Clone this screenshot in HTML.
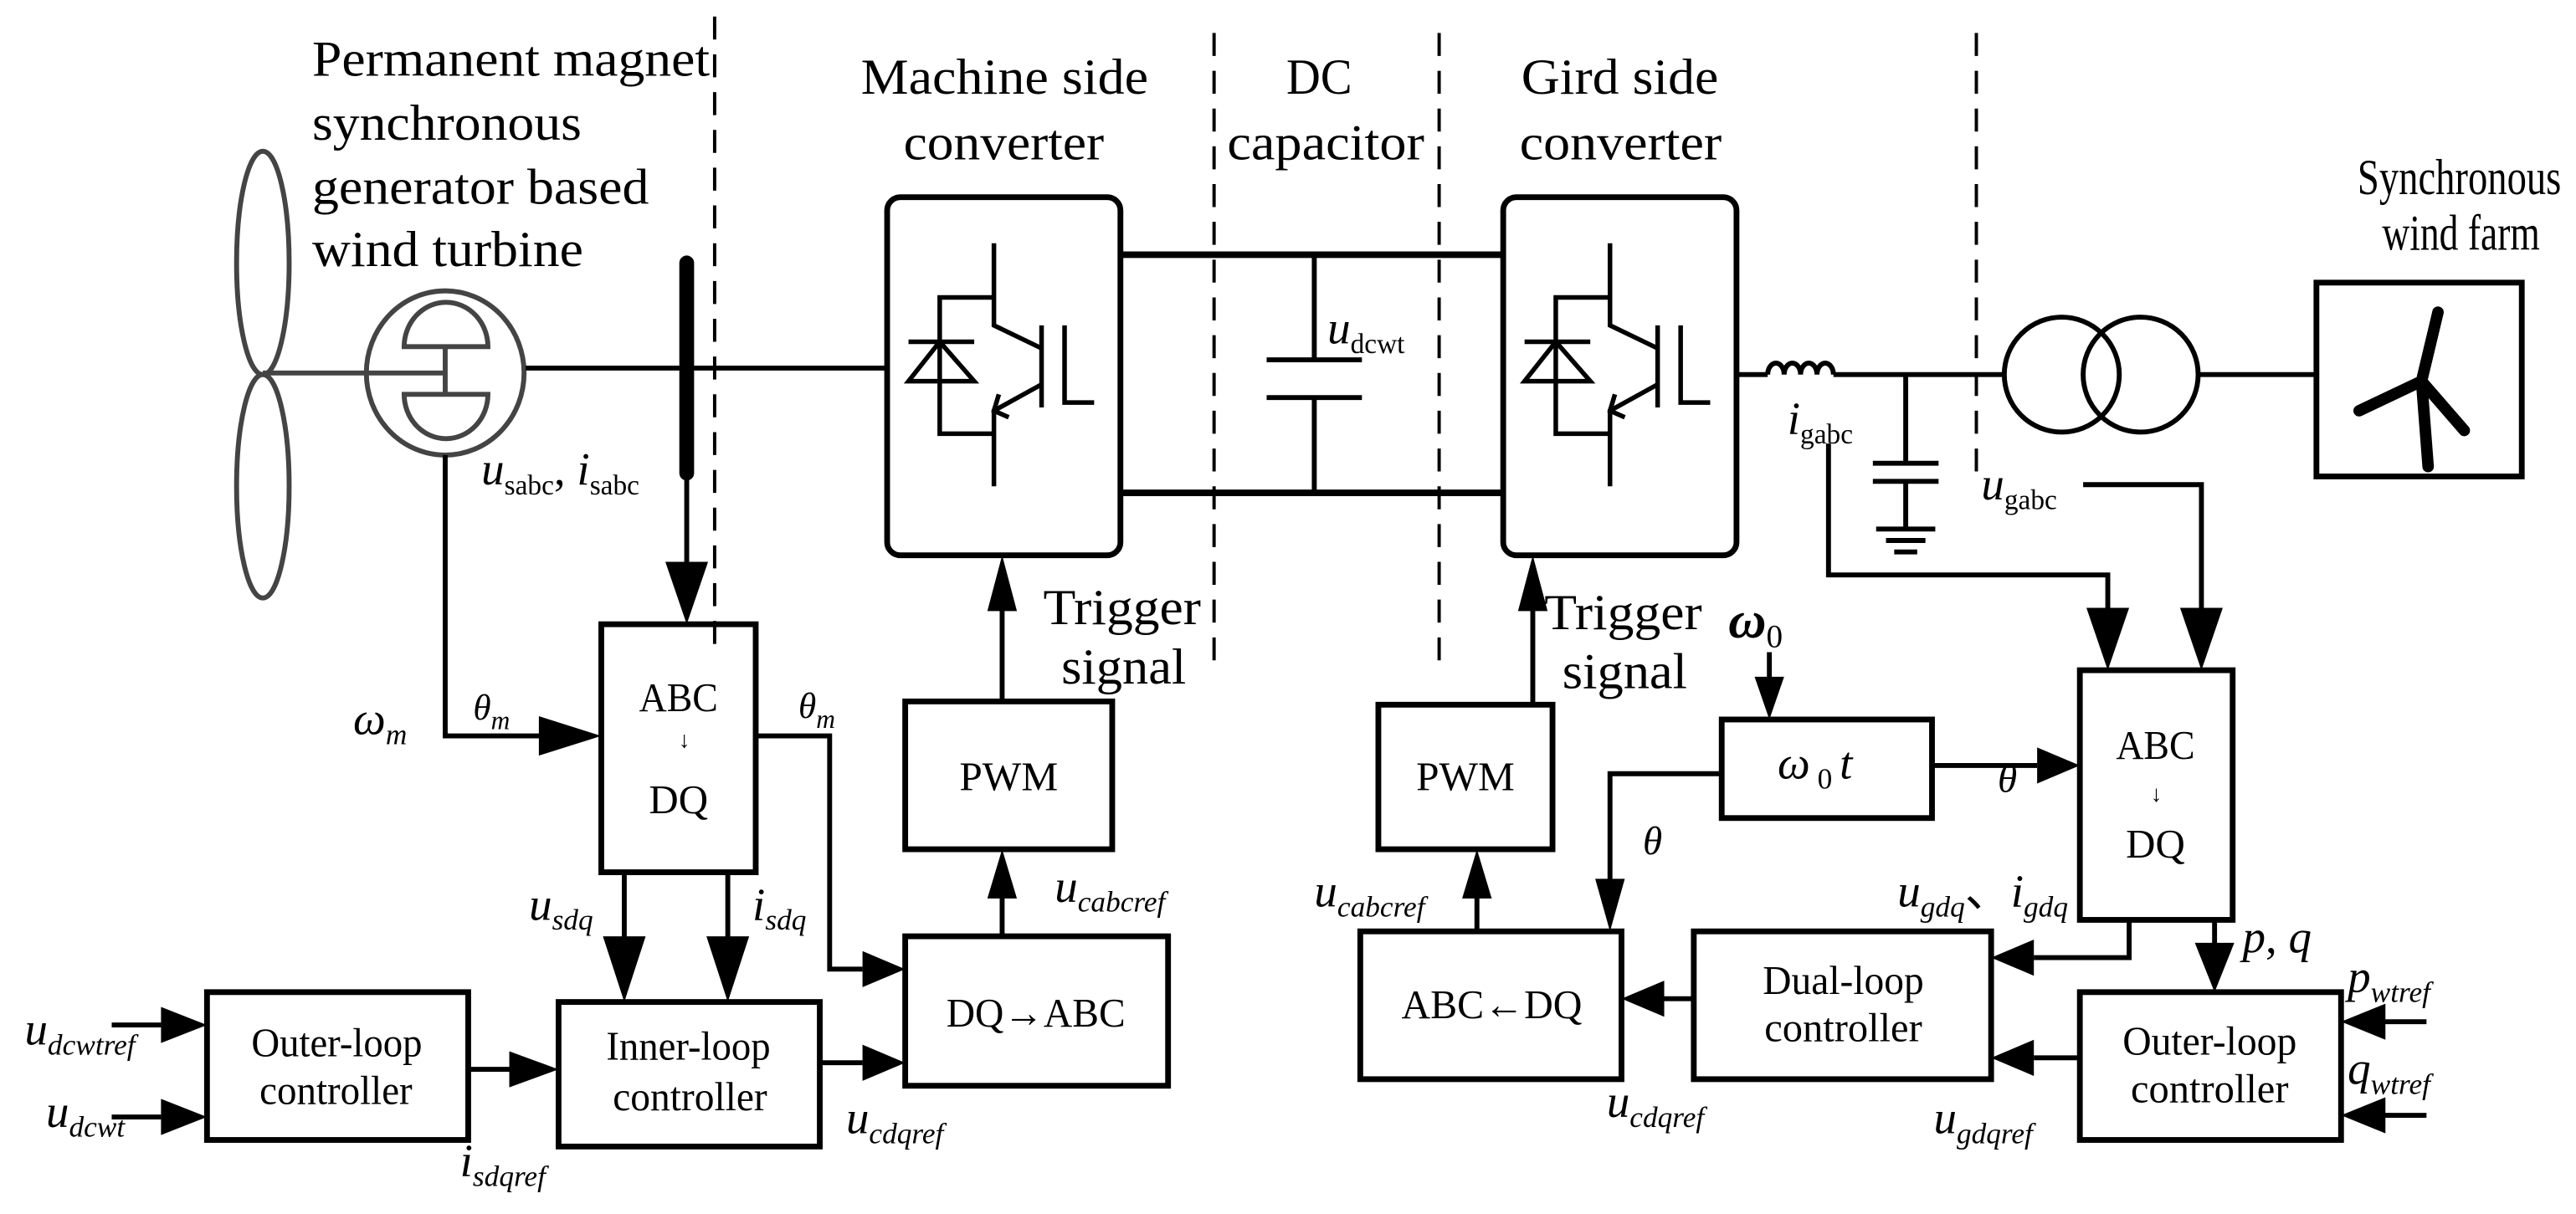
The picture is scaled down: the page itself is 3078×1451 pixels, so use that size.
<!DOCTYPE html>
<html><head><meta charset="utf-8"><style>
html,body{margin:0;padding:0;background:#fff;}
svg{display:block;}
text{font-family:"Liberation Serif",serif;fill:#000;}
</style></head><body>
<svg width="3078" height="1451" viewBox="0 0 1568 739" xmlns="http://www.w3.org/2000/svg">
<g fill="none" stroke="#000" stroke-linecap="butt">
<g stroke-width="2" stroke-dasharray="14,9">
<line x1="435" y1="10" x2="435" y2="395"/>
<line x1="739" y1="20" x2="739" y2="410"/>
<line x1="876" y1="20" x2="876" y2="410"/>
<line x1="1203" y1="20" x2="1203" y2="290"/>
</g>
<g stroke="#444" stroke-width="3">
<ellipse cx="160" cy="160" rx="16" ry="68"/>
<ellipse cx="160" cy="296" rx="16" ry="68"/>
<ellipse cx="271" cy="227" rx="48" ry="50"/>
<path d="M246 211 A25.5 27 0 0 1 297 211 Z"/>
<path d="M246 240 A25.5 27 0 0 0 297 240 Z"/>
<line x1="271" y1="211" x2="271" y2="240"/>
<line x1="160" y1="227" x2="271" y2="227"/>
</g>
<g stroke-width="3">
<line x1="320" y1="224" x2="540" y2="224"/>
<polyline points="271,277 271,448 330,448"/>
<line x1="418" y1="288" x2="418" y2="345"/>
</g>
<line x1="418" y1="160" x2="418" y2="288" stroke-width="9" stroke-linecap="round"/>
<g stroke-width="3.5">
<rect x="540" y="120" width="142" height="218" rx="8"/>
<rect x="915" y="120" width="142" height="218" rx="8"/>
</g>
<g id="igbt" stroke-width="2.8">
<polyline points="605,148 605,198 634,212"/>
<line x1="634" y1="198" x2="634" y2="248"/>
<polyline points="648,198 648,245 666,245"/>
<polyline points="634,234 605,250 605,296"/>
<polyline points="608,240 605,250 614,254"/>
<polyline points="605,181 572,181 572,264 605,264"/>
<line x1="553" y1="208" x2="593" y2="208"/>
<polygon points="572,208 553,232 593,232"/>
</g>
<use href="#igbt" x="375" y="0"/>
<g stroke-width="4">
<line x1="682" y1="155" x2="915" y2="155"/>
<line x1="682" y1="300" x2="915" y2="300"/>
</g>
<g stroke-width="3">
<line x1="800" y1="155" x2="800" y2="219"/>
<line x1="771" y1="219" x2="829" y2="219"/>
<line x1="771" y1="242" x2="829" y2="242"/>
<line x1="800" y1="242" x2="800" y2="300"/>
</g>
<g stroke-width="3">
<line x1="1057" y1="228" x2="1076" y2="228"/>
<path d="M1076 228 a5 7 0 0 1 10 0 a5 7 0 0 1 10 0 a5 7 0 0 1 10 0 a5 7 0 0 1 10 0"/>
<line x1="1116" y1="228" x2="1220" y2="228"/>
<line x1="1160" y1="228" x2="1160" y2="282"/>
<line x1="1140" y1="282" x2="1180" y2="282"/>
<line x1="1140" y1="293" x2="1180" y2="293"/>
<line x1="1160" y1="293" x2="1160" y2="322"/>
<line x1="1142" y1="322" x2="1178" y2="322"/>
<line x1="1148" y1="329" x2="1172" y2="329"/>
<line x1="1153" y1="336" x2="1167" y2="336"/>
<circle cx="1255" cy="228" r="35"/>
<circle cx="1303" cy="228" r="35"/>
<line x1="1338" y1="228" x2="1410" y2="228"/>
<polyline points="1113,270 1113,350 1283,350 1283,375"/>
<polyline points="1268,295 1340,295 1340,375"/>
</g>
<rect x="1410" y="172" width="125" height="118" stroke-width="3.5"/>
<g stroke-width="7" stroke-linecap="round">
<line x1="1474" y1="232" x2="1478" y2="284"/>
<line x1="1474" y1="232" x2="1500" y2="262"/>
<line x1="1474" y1="232" x2="1436" y2="250"/>
<line x1="1474" y1="232" x2="1484" y2="190"/>
</g>
<g stroke-width="3.5">
<rect x="366" y="380" width="94" height="151"/>
<rect x="126" y="604" width="159" height="90"/>
<rect x="340" y="610" width="159" height="88"/>
<rect x="551" y="570" width="160" height="91"/>
<rect x="551" y="427" width="126" height="90"/>
<rect x="839" y="429" width="106" height="88"/>
<rect x="1048" y="438" width="128" height="60"/>
<rect x="1266" y="408" width="93" height="152"/>
<rect x="828" y="567" width="159" height="90"/>
<rect x="1031" y="567" width="181" height="90"/>
<rect x="1266" y="604" width="159" height="90"/>
</g>
<g stroke-width="3">
<polyline points="460,448 505,448 505,590 525,590"/>
<line x1="380" y1="531" x2="380" y2="575"/>
<line x1="443" y1="531" x2="443" y2="575"/>
<line x1="68" y1="624" x2="98" y2="624"/>
<line x1="68" y1="680" x2="98" y2="680"/>
<line x1="285" y1="651" x2="312" y2="651"/>
<line x1="499" y1="647" x2="525" y2="647"/>
<line x1="610" y1="570" x2="610" y2="545"/>
<line x1="610" y1="427" x2="610" y2="370"/>
<line x1="933" y1="429" x2="933" y2="370"/>
<line x1="899" y1="567" x2="899" y2="545"/>
<line x1="1077" y1="397" x2="1077" y2="415"/>
<polyline points="1048,471 980,471 980,540"/>
<line x1="1176" y1="466" x2="1240" y2="466"/>
<polyline points="1296,560 1296,583 1238,583"/>
<line x1="1348" y1="560" x2="1348" y2="580"/>
<line x1="1266" y1="644" x2="1238" y2="644"/>
<line x1="1031" y1="608" x2="1010" y2="608"/>
<line x1="1477" y1="622" x2="1450" y2="622"/>
<line x1="1477" y1="679" x2="1450" y2="679"/>
</g>
</g>
<g fill="#000" stroke="none">
<polygon points="405,342 431,342 418,380"/>
<polygon points="328,436 328,460 366,448"/>
<polygon points="367,570 393,570 380,610"/>
<polygon points="430,570 456,570 443,610"/>
<polygon points="98,613 98,635 126,624"/>
<polygon points="98,669 98,691 126,680"/>
<polygon points="310,640 310,662 340,651"/>
<polygon points="525,579 525,601 551,590"/>
<polygon points="525,636 525,658 551,647"/>
<polygon points="601,547 619,547 610,517"/>
<polygon points="601,372 619,372 610,338"/>
<polygon points="924,372 942,372 933,338"/>
<polygon points="890,547 908,547 899,517"/>
<polygon points="1068,412 1086,412 1077,438"/>
<polygon points="971,535 989,535 980,567"/>
<polygon points="1240,455 1240,477 1266,466"/>
<polygon points="1270,370 1296,370 1283,408"/>
<polygon points="1327,370 1353,370 1340,408"/>
<polygon points="1238,572 1238,594 1212,583"/>
<polygon points="1336,574 1360,574 1348,604"/>
<polygon points="1238,633 1238,655 1212,644"/>
<polygon points="1013,597 1013,619 987,608"/>
<polygon points="1452,611 1452,633 1425,622"/>
<polygon points="1452,668 1452,690 1425,679"/>
</g>
<g font-size="31" lengthAdjust="spacingAndGlyphs">
<text x="190" y="46" textLength="242" lengthAdjust="spacingAndGlyphs">Permanent magnet</text>
<text x="190" y="85" textLength="164" lengthAdjust="spacingAndGlyphs">synchronous</text>
<text x="190" y="124" textLength="205" lengthAdjust="spacingAndGlyphs">generator based</text>
<text x="190" y="162" textLength="165" lengthAdjust="spacingAndGlyphs">wind turbine</text>
<text x="524" y="57" textLength="175" lengthAdjust="spacingAndGlyphs">Machine side</text>
<text x="550" y="97" textLength="122" lengthAdjust="spacingAndGlyphs">converter</text>
<text x="783" y="57" textLength="40" lengthAdjust="spacingAndGlyphs">DC</text>
<text x="747" y="97" textLength="120" lengthAdjust="spacingAndGlyphs">capacitor</text>
<text x="926" y="57" textLength="120" lengthAdjust="spacingAndGlyphs">Gird side</text>
<text x="925" y="97" textLength="123" lengthAdjust="spacingAndGlyphs">converter</text>
<text x="1435" y="118" textLength="124" lengthAdjust="spacingAndGlyphs">Synchronous</text>
<text x="1450" y="152" textLength="96" lengthAdjust="spacingAndGlyphs">wind farm</text>
<text x="635" y="380" textLength="96" lengthAdjust="spacingAndGlyphs">Trigger</text>
<text x="646" y="416" textLength="76" lengthAdjust="spacingAndGlyphs">signal</text>
<text x="940" y="383" textLength="96" lengthAdjust="spacingAndGlyphs">Trigger</text>
<text x="951" y="419" textLength="76" lengthAdjust="spacingAndGlyphs">signal</text>
</g>
<g font-size="25">
<text x="389" y="433" textLength="48" lengthAdjust="spacingAndGlyphs">ABC</text>
<text x="413" y="455" font-size="14">↓</text>
<text x="395" y="495" textLength="36" lengthAdjust="spacingAndGlyphs">DQ</text>
<text x="584" y="481" textLength="60" lengthAdjust="spacingAndGlyphs">PWM</text>
<text x="862" y="481" textLength="60" lengthAdjust="spacingAndGlyphs">PWM</text>
<text x="1288" y="462" textLength="48" lengthAdjust="spacingAndGlyphs">ABC</text>
<text x="1309" y="488" font-size="14">↓</text>
<text x="1294" y="522" textLength="36" lengthAdjust="spacingAndGlyphs">DQ</text>
<text x="576" y="625" textLength="109" lengthAdjust="spacingAndGlyphs">DQ→ABC</text>
<text x="853" y="620" textLength="110" lengthAdjust="spacingAndGlyphs">ABC←DQ</text>
<text x="153" y="643" textLength="104" lengthAdjust="spacingAndGlyphs">Outer-loop</text>
<text x="158" y="672" textLength="93" lengthAdjust="spacingAndGlyphs">controller</text>
<text x="369" y="645" textLength="100" lengthAdjust="spacingAndGlyphs">Inner-loop</text>
<text x="373" y="676" textLength="94" lengthAdjust="spacingAndGlyphs">controller</text>
<text x="1073" y="605" textLength="98" lengthAdjust="spacingAndGlyphs">Dual-loop</text>
<text x="1074" y="634" textLength="96" lengthAdjust="spacingAndGlyphs">controller</text>
<text x="1292" y="642" textLength="106" lengthAdjust="spacingAndGlyphs">Outer-loop</text>
<text x="1297" y="671" textLength="96" lengthAdjust="spacingAndGlyphs">controller</text>
</g>
<g font-size="28">
<text x="808" y="209" font-style="italic">u<tspan font-size="17" font-style="normal" dy="6">dcwt</tspan></text>
<text x="293" y="295" font-style="italic">u<tspan font-size="17" font-style="normal" dy="6">sabc</tspan><tspan dy="-6" font-style="normal">, </tspan>i<tspan font-size="17" font-style="normal" dy="6">sabc</tspan></text>
<text x="1088" y="264" font-style="italic">i<tspan font-size="17" font-style="normal" dy="6">gabc</tspan></text>
<text x="1206" y="304" font-style="italic">u<tspan font-size="17" font-style="normal" dy="6">gabc</tspan></text>
<text x="215" y="447" font-style="italic">ω<tspan font-size="18" dy="6">m</tspan></text>
<text x="288" y="438" font-size="22" font-style="italic">θ<tspan font-size="16" dy="6">m</tspan></text>
<text x="486" y="437" font-size="22" font-style="italic">θ<tspan font-size="16" dy="6">m</tspan></text>
<text x="322" y="560" font-style="italic">u<tspan font-size="18" dy="6">sdq</tspan></text>
<text x="458" y="560" font-style="italic">i<tspan font-size="18" dy="6">sdq</tspan></text>
<text x="15" y="636" font-style="italic">u<tspan font-size="18" dy="6">dcwtref</tspan></text>
<text x="28" y="686" font-style="italic">u<tspan font-size="18" dy="6">dcwt</tspan></text>
<text x="280" y="716" font-style="italic">i<tspan font-size="18" dy="6">sdqref</tspan></text>
<text x="515" y="690" font-style="italic">u<tspan font-size="18" dy="6">cdqref</tspan></text>
<text x="642" y="549" font-style="italic">u<tspan font-size="18" dy="6">cabcref</tspan></text>
<text x="800" y="552" font-style="italic">u<tspan font-size="18" dy="6">cabcref</tspan></text>
<text x="1052" y="388" font-size="32" font-style="italic" font-weight="bold">ω<tspan font-size="20" font-style="normal" font-weight="normal" dy="6">0</tspan></text>
<text x="1082" y="474" font-style="italic">ω<tspan font-size="18" font-style="normal" dy="6"> 0 </tspan><tspan dy="-6">t</tspan></text>
<text x="1216" y="482" font-size="24" font-style="italic">θ</text>
<text x="1000" y="520" font-size="24" font-style="italic">θ</text>
<text x="1155" y="552" font-style="italic">u<tspan font-size="18" dy="6">gdq</tspan><tspan dy="-6" font-style="normal">、</tspan>i<tspan font-size="18" dy="6">gdq</tspan></text>
<text x="1365" y="580" font-style="italic">p<tspan font-style="normal">, </tspan>q</text>
<text x="1429" y="604" font-style="italic">p<tspan font-size="18" dy="6">wtref</tspan></text>
<text x="1429" y="660" font-style="italic">q<tspan font-size="18" dy="6">wtref</tspan></text>
<text x="978" y="680" font-style="italic">u<tspan font-size="18" dy="6">cdqref</tspan></text>
<text x="1177" y="690" font-style="italic">u<tspan font-size="18" dy="6">gdqref</tspan></text>
</g>
</svg>
</body></html>
